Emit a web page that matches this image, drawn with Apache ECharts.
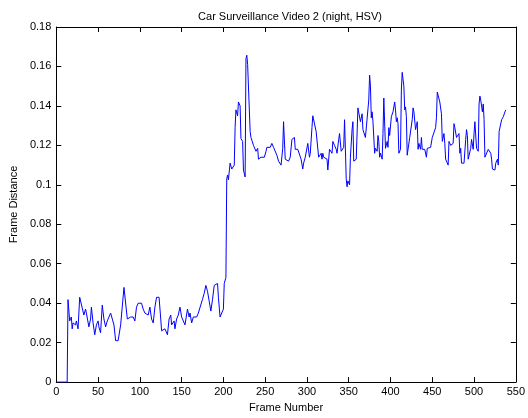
<!DOCTYPE html>
<html><head><meta charset="utf-8">
<script src="https://cdn.jsdelivr.net/npm/echarts@6/dist/echarts.min.js"></script>
<style>html,body{margin:0;padding:0;background:#fff}#c{width:528px;height:418px}</style>
</head><body><div id="c"></div>
<script>
const titleText = "Car Surveillance Video 2 (night, HSV)";
const xLabel = "Frame Number";
const yLabel = "Frame Distance";
const frames = [1,13,14,16,18,19,20,23,24,26,28,30,33,35,36,38,39,41,42,44,46,48,50,51,53,55,57,59,61,63,65,67,69,71,74,77,79,81,83,85,87,89,91,92,94,96,98,100,102,104,106,108,110,112,114,116,118,120,123,125,126,128,130,133,135,137,138,141,142,144,146,148,150,152,154,157,159,160,162,164,166,168,170,172,175,177,179,181,183,185,187,189,191,193,194,196,198,200,201,203,204,205,206,208,210,212,213,214,215,217,218,220,221,223,224,226,227,228,229,230,232,233,235,236,238,239,241,242,245,247,249,251,252,254,256,258,260,262,264,266,267,269,271,272,273,274,276,278,280,282,283,285,286,288,289,291,293,295,296,298,300,301,303,304,306,307,309,311,312,314,315,317,318,319,320,322,324,325,327,328,330,331,333,335,336,338,339,341,342,344,345,347,348,349,351,352,354,355,356,358,359,361,362,363,364,366,367,369,370,371,372,374,375,376,377,378,379,381,382,384,385,386,387,388,390,391,392,393,394,396,397,398,399,401,402,403,405,406,407,408,409,410,412,413,414,416,417,418,419,420,422,423,425,426,427,428,430,431,432,433,434,436,437,438,440,441,443,444,446,448,450,452,454,455,456,458,459,461,462,463,464,465,466,468,469,470,472,473,475,476,477,479,480,482,483,484,485,487,488,490,491,492,493,495,496,497,499,500,501,502,503,505,506,507,508,510,511,512,513,514,515,517,518,520,521,522,524,525,526,528,529,530,532,533,534,535,537,538];
const distance = [0,0,0.0418,0.031,0.033,0.027,0.030,0.029,0.031,0.027,0.043,0.042,0.034,0.037,0.035,0.036,0.028,0.032,0.038,0.030,0.024,0.029,0.031,0.028,0.025,0.039,0.032,0.028,0.031,0.030,0.035,0.032,0.029,0.021,0.021,0.029,0.028,0.048,0.047,0.032,0.031,0.033,0.032,0.033,0.031,0.038,0.040,0.039,0.040,0.037,0.035,0.036,0.034,0.038,0.032,0.030,0.038,0.043,0.043,0.032,0.026,0.025,0.027,0.024,0.032,0.034,0.029,0.031,0.027,0.032,0.034,0.038,0.033,0.031,0.029,0.037,0.033,0.035,0.030,0.033,0.034,0.033,0.035,0.036,0.042,0.045,0.049,0.046,0.041,0.036,0.042,0.049,0.048,0.050,0.043,0.033,0.034,0.037,0.050,0.053,0.103,0.105,0.1025,0.111,0.108,0.1075,0.110,0.129,0.138,0.135,0.142,0.140,0.1235,0.122,0.1075,0.104,0.164,0.1657,0.161,0.161,0.127,0.124,0.125,0.120,0.121,0.117,0.1185,0.113,0.114,0.113,0.114,0.117,0.119,0.119,0.119,0.121,0.119,0.120,0.115,0.112,0.111,0.110,0.1185,0.132,0.131,0.113,0.112,0.112,0.114,0.123,0.124,0.124,0.118,0.117,0.118,0.118,0.113,0.108,0.111,0.114,0.113,0.121,0.114,0.116,0.129,0.135,0.134,0.127,0.128,0.114,0.113,0.116,0.113,0.116,0.114,0.115,0.113,0.1075,0.118,0.1185,0.116,0.122,0.120,0.118,0.116,0.123,0.126,0.117,0.116,0.119,0.133,0.103,0.099,0.102,0.100,0.114,0.128,0.132,0.112,0.111,0.113,0.139,0.1395,0.138,0.132,0.136,0.128,0.127,0.124,0.124,0.125,0.143,0.1556,0.150,0.134,0.137,0.132,0.116,0.1185,0.117,0.125,0.122,0.114,0.116,0.113,0.126,0.144,0.145,0.1185,0.122,0.119,0.129,0.125,0.1345,0.135,0.137,0.142,0.138,0.132,0.134,0.131,0.116,0.118,0.148,0.157,0.150,0.138,0.1395,0.1345,0.115,0.115,0.124,0.125,0.133,0.139,0.137,0.128,0.130,0.132,0.118,0.121,0.118,0.124,0.118,0.117,0.118,0.114,0.1185,0.1185,0.119,0.124,0.125,0.129,0.134,0.147,0.148,0.142,0.136,0.122,0.121,0.126,0.121,0.113,0.113,0.110,0.122,0.120,0.121,0.121,0.131,0.129,0.124,0.125,0.126,0.116,0.1185,0.111,0.111,0.111,0.123,0.128,0.125,0.113,0.113,0.1185,0.123,0.118,0.126,0.132,0.133,0.1185,0.117,0.141,0.145,0.143,0.137,0.141,0.133,0.114,0.113,0.115,0.118,0.117,0.116,0.113,0.108,0.109,0.1075,0.111,0.113,0.110,0.127,0.128,0.133,0.133,0.1345,0.137,0.138];
const xTicks = {min:0, max:550, interval:50};
const yTicks = {min:0, max:0.18, interval:0.02};

const chart = echarts.init(document.getElementById('c'), null, {renderer:'canvas'});
const font = 'Liberation Sans, Arial, sans-serif';
const axisCommon = {
  axisLine:{show:true, onZero:false, lineStyle:{color:'#000', width:1}},
  axisTick:{show:true, inside:true, length:5, lineStyle:{color:'#000'}},
  splitLine:{show:false}
};
const fmtY = v => String(+v.toFixed(2));
chart.setOption({
  animation:false,
  backgroundColor:'#fff',
  title:{text:titleText, left:285, top:6, textAlign:'center',
    textStyle:{fontFamily:font, fontSize:11, fontWeight:'normal', color:'#000'}},
  grid:{left:53, right:11, top:27, bottom:35, containLabel:false},
  xAxis:[
    Object.assign({type:'value', position:'bottom', min:xTicks.min, max:xTicks.max, interval:xTicks.interval,
      name:xLabel, nameLocation:'middle', nameGap:15,
      nameTextStyle:{fontFamily:font, fontSize:11, color:'#000'},
      axisLabel:{fontFamily:font, fontSize:11, color:'#000', margin:4}}, axisCommon),
    Object.assign({type:'value', position:'top', min:xTicks.min, max:xTicks.max, interval:xTicks.interval,
      axisLabel:{show:false}}, axisCommon)
  ],
  yAxis:[
    Object.assign({type:'value', position:'left', min:yTicks.min, max:yTicks.max, interval:yTicks.interval,
      name:yLabel, nameLocation:'middle', nameGap:30, nameRotate:90,
      nameTextStyle:{fontFamily:font, fontSize:11, color:'#000'},
      axisLabel:{fontFamily:font, fontSize:11, color:'#000', margin:5, formatter:fmtY}}, axisCommon),
    Object.assign({type:'value', position:'right', min:yTicks.min, max:yTicks.max, interval:yTicks.interval,
      axisLabel:{show:false}}, axisCommon)
  ],
  series:[{
    type:'line', xAxisIndex:0, yAxisIndex:0,
    data: frames.map((f,i)=>[f, distance[i]]),
    showSymbol:false, symbol:'none',
    lineStyle:{color:'#0000ff', width:1},
    itemStyle:{color:'#0000ff'}
  }]
});
</script>
</body></html>
